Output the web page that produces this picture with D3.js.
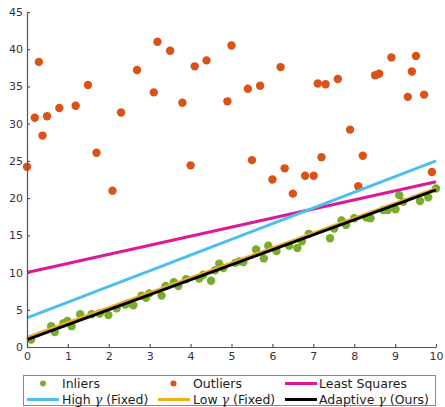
<!DOCTYPE html>
<html>
<head>
<meta charset="utf-8">
<script src="https://cdn.jsdelivr.net/npm/d3@7"></script>
<style>
  body { margin: 0; background: #fff; }
  svg { display: block; font-family: "DejaVu Sans", sans-serif; }
</style>
</head>
<body>
<div id="chart"></div>
<script>
const margin = { top: 12, right: 9, bottom: 60, left: 27 };
const width = 445;
const height = 407;

// inliers (x, y)
const inlierX = [0.10, 0.59, 0.68, 0.89, 0.99, 1.09, 1.30, 1.58, 1.78, 1.99, 2.19, 2.40, 2.49, 2.60,
  2.80, 2.91, 2.99, 3.29, 3.39, 3.59, 3.70, 3.89, 4.21, 4.31, 4.50, 4.60, 4.70, 4.80, 5.09, 5.19,
  5.29, 5.60, 5.79, 5.90, 6.10, 6.41, 6.61, 6.72, 6.89, 7.41, 7.51, 7.69, 7.80, 8.00, 8.30, 8.40,
  8.71, 8.82, 9.01, 9.10, 9.20, 9.61, 9.81, 10.0];
const inlierY = [1.0, 2.8, 2.0, 3.2, 3.5, 2.8, 4.4, 4.4, 4.5, 4.3, 5.2, 5.7, 5.9, 5.6,
  6.9, 6.6, 7.2, 6.9, 8.2, 8.7, 8.2, 9.1, 9.2, 9.7, 8.9, 10.3, 11.2, 10.6, 11.3, 11.5,
  11.4, 13.1, 11.9, 13.6, 12.9, 13.6, 13.3, 14.2, 15.2, 14.6, 15.9, 17.0, 16.4, 17.3, 17.4, 17.3,
  18.4, 18.4, 18.5, 20.4, 19.5, 19.6, 20.1, 21.3];

// outliers (x, y)
const outlierX = [0.0, 0.19, 0.29, 0.38, 0.49, 0.79, 1.19, 1.49, 1.70, 2.09, 2.30, 2.69, 3.10, 3.19,
  3.50, 3.80, 4.00, 4.10, 4.39, 4.90, 5.00, 5.40, 5.50, 5.70, 6.00, 6.20, 6.30, 6.50, 6.80, 7.01,
  7.11, 7.20, 7.30, 7.60, 7.90, 8.10, 8.21, 8.51, 8.61, 8.91, 9.31, 9.41, 9.51, 9.71, 9.90];
const outlierY = [24.2, 30.8, 38.3, 28.4, 31.0, 32.1, 32.4, 35.2, 26.1, 21.0, 31.5, 37.2, 34.2, 41.0,
  39.8, 32.8, 24.4, 37.7, 38.5, 33.0, 40.5, 34.7, 25.1, 35.1, 22.5, 37.6, 24.0, 20.6, 23.0, 23.0,
  35.4, 25.5, 35.3, 36.0, 29.2, 21.6, 25.7, 36.5, 36.7, 38.9, 33.6, 37.0, 39.1, 33.9, 23.5];

// fitted lines, value at x = 0 and x = 10
const lineX = [0, 10];
const leastSquares = [10.0, 22.2];
const highGamma = [3.9, 25.0];
const lowGamma = [1.3, 21.3];
const adaptive = [1.0, 21.1];

const xTicks = [0, 1, 2, 3, 4, 5, 6, 7, 8, 9, 10];
const yTicks = [0, 5, 10, 15, 20, 25, 30, 35, 40, 45];

const inlierColor = '#77ac30';
const outlierColor = '#d95319';

const x = d3.scaleLinear().domain([0, 10]).range([margin.left, width - margin.right]);
const y = d3.scaleLinear().domain([0, 45]).range([height - margin.bottom, margin.top]);

const svg = d3.select('#chart').append('svg')
  .attr('width', width)
  .attr('height', height);

// scatter points
svg.append('g')
  .selectAll('circle')
  .data(inlierX.map((d, i) => [d, inlierY[i]]))
  .join('circle')
    .attr('cx', d => x(d[0]))
    .attr('cy', d => y(d[1]))
    .attr('r', 4.2)
    .attr('fill', inlierColor);

svg.append('g')
  .selectAll('circle')
  .data(outlierX.map((d, i) => [d, outlierY[i]]))
  .join('circle')
    .attr('cx', d => x(d[0]))
    .attr('cy', d => y(d[1]))
    .attr('r', 4.2)
    .attr('fill', outlierColor);

// fitted lines
const fits = [
  { name: 'Least Squares', values: leastSquares, color: '#dd189a' },
  { name: 'High', values: highGamma, color: '#4dbeee' },
  { name: 'Low', values: lowGamma, color: '#edb120' },
  { name: 'Adaptive', values: adaptive, color: '#000000' }
];

const line = d3.line().x(d => x(d[0])).y(d => y(d[1]));

svg.append('g')
  .selectAll('path')
  .data(fits)
  .join('path')
    .attr('fill', 'none')
    .attr('stroke', d => d.color)
    .attr('stroke-width', 3)
    .attr('d', d => line(lineX.map((v, i) => [v, d.values[i]])));

// axes
const xAxis = svg.append('g')
  .attr('transform', `translate(0, ${y(0)})`)
  .call(d3.axisBottom(x).tickValues(xTicks).tickSizeInner(-3).tickSizeOuter(0).tickPadding(5));

const yAxis = svg.append('g')
  .attr('transform', `translate(${x(0)}, 0)`)
  .call(d3.axisLeft(y).tickValues(yTicks).tickSizeInner(-3).tickSizeOuter(0).tickPadding(4));

[xAxis, yAxis].forEach(a => {
  a.selectAll('path, line').attr('stroke', '#555').attr('stroke-width', 1.2);
  a.selectAll('text')
    .attr('fill', '#333')
    .attr('font-size', '11px')
    .attr('font-family', '"DejaVu Sans", sans-serif');
});

// legend
const legend = svg.append('g');
legend.append('rect')
  .attr('x', 23.5)
  .attr('y', 375.5)
  .attr('width', 412)
  .attr('height', 30)
  .attr('fill', '#fff')
  .attr('stroke', '#888')
  .attr('stroke-width', 1);

const colX = [27, 158, 285];
const rowY = [383.5, 399.5];
const textX = [62, 193, 319];

function legendText(col, row, before, after) {
  const t = legend.append('text')
    .attr('x', textX[col])
    .attr('y', rowY[row])
    .attr('dy', '0.35em')
    .attr('font-size', '12.5px')
    .attr('fill', '#222');
  t.append('tspan').text(before);
  if (after !== undefined) {
    t.append('tspan').text('γ')
      .attr('font-family', '"DejaVu Serif", serif')
      .attr('font-style', 'italic');
    t.append('tspan').text(after);
  }
}

// marker entries
legend.append('circle').attr('cx', 43).attr('cy', rowY[0]).attr('r', 3).attr('fill', inlierColor);
legendText(0, 0, 'Inliers');
legend.append('circle').attr('cx', 173.5).attr('cy', rowY[0]).attr('r', 3).attr('fill', outlierColor);
legendText(1, 0, 'Outliers');

// line entries
const lineEntries = [
  { fit: fits[0], col: 2, row: 0, before: 'Least Squares' },
  { fit: fits[1], col: 0, row: 1, before: 'High ', after: ' (Fixed)' },
  { fit: fits[2], col: 1, row: 1, before: 'Low ', after: ' (Fixed)' },
  { fit: fits[3], col: 2, row: 1, before: 'Adaptive ', after: ' (Ours)' }
];
lineEntries.forEach(e => {
  legend.append('line')
    .attr('x1', colX[e.col])
    .attr('x2', colX[e.col] + 32)
    .attr('y1', rowY[e.row])
    .attr('y2', rowY[e.row])
    .attr('stroke', e.fit.color)
    .attr('stroke-width', 3);
  legendText(e.col, e.row, e.before, e.after);
});
</script>
</body>
</html>
